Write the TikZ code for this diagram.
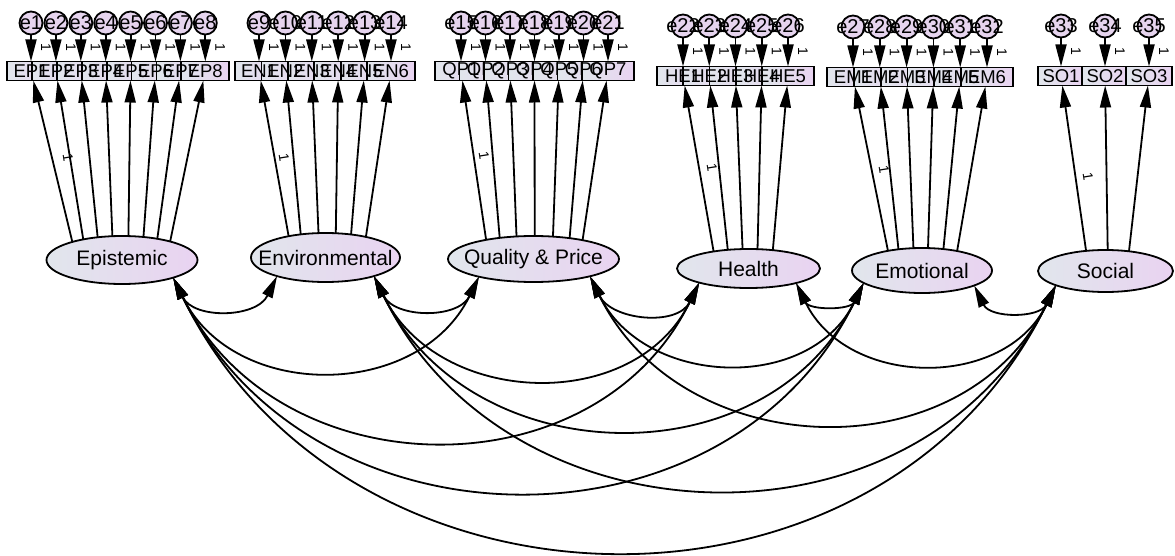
\documentclass[tikz,border=0pt]{standalone}
\usepackage{fontspec}
\setmainfont{Liberation Sans}
\usetikzlibrary{arrows.meta,shapes.geometric,calc}

\definecolor{lowblue}{HTML}{E1E6EC}
\definecolor{lowpurple}{HTML}{E9D3F1}
\definecolor{errfill}{HTML}{E6D4EE}

\tikzset{
  latent/.style={ellipse, draw, line width=1.8pt, inner sep=0pt, outer sep=0pt,
    left color=lowblue, right color=lowpurple},
  lattext/.style={font=\fontsize{21}{21}\selectfont, inner sep=0pt},
  obsbox/.style={rectangle, draw, line width=1.8pt, inner sep=0pt, outer sep=0pt,
    minimum height=19pt, left color=lowblue, right color=lowpurple},
  obstext/.style={font=\fontsize{18.5}{18.5}\selectfont, inner sep=0pt},
  errc/.style={circle, draw, line width=1.8pt, fill=errfill, minimum size=23pt,
    inner sep=0pt, outer sep=0pt},
  errtext/.style={font=\fontsize{20}{20}\selectfont, inner sep=0pt},
  amos/.style={line width=1.8pt, -{Triangle[length=22pt,width=11pt]}},
  cov/.style={line width=1.8pt,
    {Triangle[length=22pt,width=11pt]}-{Triangle[length=22pt,width=11pt]},
    out=-64, in=-116, looseness=1.15},
  fixone/.style={font=\fontsize{14}{14}\selectfont, inner sep=0pt},
}

% indicator row: prefix, first x, step, count, box y, box width, first error index, error y
\newcommand\obsrow[8]{%
  \foreach \k in {1,...,#4} {
    \pgfmathsetmacro\cx{#2+#3*(\k-1)}
    \node[obsbox, minimum width=#6pt] (#1\k) at (\cx,-#5) {};
  }
  \foreach \k in {1,...,#4} \node[obstext] at (#1\k) {#1\k};
  \foreach \k in {1,...,#4} {
    \pgfmathtruncatemacro\n{#7+\k-1}
    \node[errc] (e\n) at ($(#1\k)+(0,{#5-#8})$) {};
    \node[errtext] at (e\n) {e\n};
    \draw[amos] (e\n) -- (#1\k);
    \node[fixone, rotate=-90] at ($(e\n)!0.5!(#1\k)+(15,0)$) {1};
  }
}

% loadings from a latent ellipse: latent, prefix, rx, ry, x offsets on the ellipse top
\newcommand\loadings[5]{%
  \foreach \dx [count=\k] in {#5} {
    \pgfmathsetmacro\ang{atan2(#4*sqrt(1-(\dx/#3)^2), \dx)}
    \draw[amos] (#1.\ang) -- (#2\k);
  }
}

\begin{document}
\begin{tikzpicture}[x=1pt,y=1pt]
\fill[white] (0,0) rectangle (1175,-556);
\useasboundingbox (0,0) rectangle (1175,-556);

% latent factors
\node[latent, minimum width=151pt, minimum height=48pt] (Epi) at (122,-260) {};
\node[latent, minimum width=149pt, minimum height=49pt] (Env) at (325.5,-257.5) {};
\node[latent, minimum width=171pt, minimum height=46pt] (QP)  at (533.5,-259) {};
\node[latent, minimum width=143pt, minimum height=39pt] (Hea) at (748.5,-268.5) {};
\node[latent, minimum width=140pt, minimum height=45pt] (Emo) at (922,-270.5) {};
\node[latent, minimum width=135pt, minimum height=42pt] (Soc) at (1105.5,-271) {};
\node[lattext] at (Epi) {Epistemic};
\node[lattext] at (Env) {Environmental};
\node[lattext] at (QP)  {Quality \& Price};
\node[lattext] at (Hea) {Health};
\node[lattext] at (Emo) {Emotional};
\node[lattext] at (Soc) {Social};

% indicators with their error terms
\obsrow{EP}{31}{24.9}{8}{71}{48}{1}{23}
\obsrow{EN}{259}{26.4}{6}{71}{48}{9}{23}
\obsrow{QP}{461}{24.5}{7}{71}{52}{15}{23}
\obsrow{HE}{683}{26.25}{5}{76}{52}{22}{26}
\obsrow{EM}{853}{26.8}{6}{77}{52}{27}{27}
\obsrow{SO}{1061}{44}{3}{76}{46}{33}{26}

% factor loadings
\loadings{Epi}{EP}{75.5}{24}{-50,-39,-25,-10,6,21,35,48}
\loadings{Env}{EN}{74.5}{24.5}{-38,-25,-7,10,25,40}
\loadings{QP}{QP}{85.5}{23}{-49,-34,-17,1,19,36,49}
\loadings{Hea}{HE}{71.5}{19.5}{-35,-21,-6,9,24}
\loadings{Emo}{EM}{70}{22.5}{-35,-24,-9,6,21,35}
\loadings{Soc}{SO}{67.5}{21}{-20,2,23}

% fixed loadings
\node[fixone, rotate=-81] at (68,-158) {1};
\node[fixone, rotate=-81] at (284,-158) {1};
\node[fixone, rotate=-81] at (484,-156) {1};
\node[fixone, rotate=-81] at (712,-168) {1};
\node[fixone, rotate=-81] at (884,-170) {1};
\node[fixone, rotate=-81] at (1088,-177) {1};

% attachment points of the covariances
\coordinate (EpiR) at (Epi.-19);
\coordinate (EnvL) at (Env.-159);
\coordinate (EnvR) at (Env.-21);
\coordinate (QPL)  at (QP.-162);
\coordinate (QPR)  at (QP.-17);
\coordinate (HeaL) at (Hea.-164);
\coordinate (HeaR) at (Hea.-17);
\coordinate (EmoL) at (Emo.-168);
\coordinate (EmoR) at (Emo.-16);
\coordinate (SocL) at (Soc.-164);

% covariances between all factors
\draw[cov] (EpiR) to (EnvL);
\draw[cov] (EpiR) to (QPL);
\draw[cov] (EpiR) to (HeaL);
\draw[cov] (EpiR) to (EmoL);
\draw[cov] (EpiR) to (SocL);
\draw[cov] (EnvR) to (QPL);
\draw[cov] (EnvR) to (HeaL);
\draw[cov] (EnvR) to (EmoL);
\draw[cov] (EnvR) to (SocL);
\draw[cov] (QPR) to (HeaL);
\draw[cov] (QPR) to (EmoL);
\draw[cov] (QPR) to (SocL);
\draw[cov] (HeaR) to (EmoL);
\draw[cov] (HeaR) to (SocL);
\draw[cov] (EmoR) to (SocL);
\end{tikzpicture}
\end{document}
